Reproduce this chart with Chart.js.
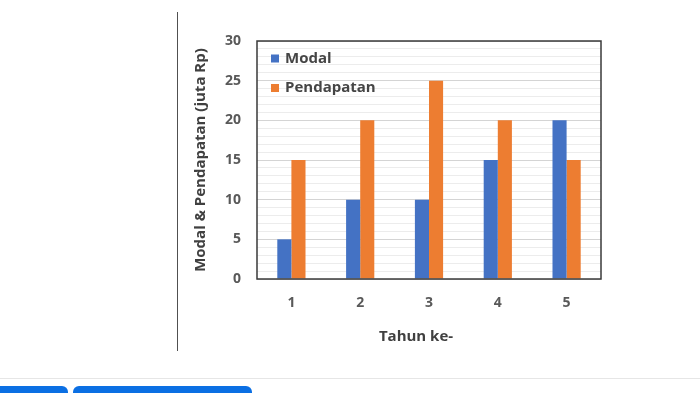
<!DOCTYPE html>
<html>
<head>
<meta charset="utf-8">
<script src="https://cdn.jsdelivr.net/npm/chart.js@4"></script>
<style>
  html, body { margin:0; padding:0; background:#fff; width:700px; height:393px; overflow:hidden; }
  #wrap { position:absolute; left:0; top:0; width:700px; height:393px; }
  #vline { position:absolute; left:177px; top:12px; width:1px; height:339px; background:#505050; }
  #hline { position:absolute; left:0; top:378px; width:700px; height:1px; background:#e6e6e6; }
  .btn { position:absolute; top:386px; height:14px; background:#0b6fe3; border-radius:6px 6px 0 0; }
</style>
</head>
<body>
<div id="wrap">
  <canvas id="c" width="700" height="393"></canvas>
</div>
<div id="vline"></div>
<div id="hline"></div>
<div class="btn" style="left:-6px;width:74px;"></div>
<div class="btn" style="left:73px;width:179px;"></div>
<script>
const categories = ['1', '2', '3', '4', '5'];
const modal = [5, 10, 10, 15, 20];
const pendapatan = [15, 20, 25, 20, 15];
const seriesNames = ['Modal', 'Pendapatan'];
const yTickLabels = [0, 5, 10, 15, 20, 25, 30];
const xTitle = 'Tahun ke-';
const yTitle = 'Modal & Pendapatan (juta Rp)';

const FONT = "'Open Sans', 'Noto Sans', sans-serif";

const borderPlugin = {
  id: 'plotBorder',
  afterDatasetsDraw(chart) {
    const {ctx, chartArea: a} = chart;
    ctx.save();
    ctx.strokeStyle = '#3a3a3a';
    ctx.lineWidth = 1.5;
    ctx.strokeRect(a.left, a.top, a.right - a.left, a.bottom - a.top);
    ctx.restore();
  }
};

const legendPlugin = {
  id: 'insideLegend',
  afterDraw(chart) {
    const {ctx, chartArea: a} = chart;
    ctx.save();
    ctx.font = "bold 15px " + FONT;
    ctx.textBaseline = 'middle';
    ctx.textAlign = 'left';
    chart.data.datasets.forEach((ds, i) => {
      const cy = a.top + 17.5 + i * 29.5;
      ctx.fillStyle = ds.backgroundColor;
      ctx.fillRect(a.left + 14, cy - 4, 8, 8);
      ctx.fillStyle = '#454545';
      ctx.fillText(ds.label, a.left + 28, cy);
    });
    // x axis title
    ctx.textAlign = 'center';
    ctx.fillStyle = '#404040';
    ctx.fillText(xTitle, (a.left + a.right) / 2 - 13, 337);
    ctx.restore();
  }
};

new Chart(document.getElementById('c'), {
  type: 'bar',
  data: {
    labels: categories,
    datasets: [
      { label: seriesNames[0], data: modal, backgroundColor: '#4472C4' },
      { label: seriesNames[1], data: pendapatan, backgroundColor: '#ED7D31' }
    ]
  },
  options: {
    responsive: false,
    animation: false,
    devicePixelRatio: 1,
    layout: { padding: { left: 180, right: 99, top: 41, bottom: 43 } },
    datasets: { bar: { categoryPercentage: 0.41, barPercentage: 1.0 } },
    plugins: { legend: { display: false }, tooltip: { enabled: false } },
    scales: {
      x: {
        grid: { display: false, drawTicks: false },
        border: { display: false },
        ticks: { color: '#595959', font: { family: FONT, size: 14, weight: 'bold' }, padding: 16 },
        title: { display: false },
        afterFit(scale) { scale.height = 71; }
      },
      y: {
        min: 0, max: 30,
        grid: {
          drawTicks: false,
          color: (ctx) => (ctx.tick && ctx.tick.value % 5 === 0) ? '#d4d4d4' : '#ececec',
          lineWidth: 1
        },
        border: { display: false },
        ticks: {
          stepSize: 1, autoSkip: false, padding: 16, color: '#595959',
          font: { family: FONT, size: 14, weight: 'bold' },
          callback: (v) => yTickLabels.includes(v) ? String(v) : ''
        },
        title: { display: true, text: yTitle, color: '#404040',
                 font: { family: FONT, size: 15, weight: 'bold' }, padding: { top: 12, bottom: 0 } },
        afterFit(scale) { scale.width = 77; }
      }
    }
  },
  plugins: [borderPlugin, legendPlugin]
});
</script>
</body>
</html>
